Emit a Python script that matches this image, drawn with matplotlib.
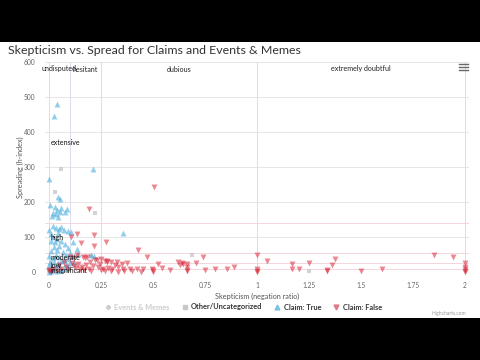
import matplotlib.pyplot as plt
from matplotlib.lines import Line2D
from matplotlib.patches import Rectangle

# --- data ---
true_x = [0.038, 0.024, 0.21, 0.0, 0.357,
          0.045, 0.053, 0.005, 0.03, 0.04, 0.055, 0.02, 0.06, 0.085, 0.077, 0.035, 0.015, 0.045,
          0.0, 0.02, 0.035, 0.05, 0.06, 0.07, 0.093, 0.108, 0.01, 0.045,
          0.02, 0.04, 0.012, 0.03, 0.06, 0.075, 0.05, 0.116, 0.133, 0.09, 0.025, 0.01, 0.065, 0.1, 0.04, 0.08,
          0.0, 0.02, 0.035, 0.05, 0.07, 0.09, 0.11, 0.2, 0.215, 0.005, 0.025, 0.045, 0.06, 0.08,
          0.0, 0.015, 0.03, 0.05, 0.07, 0.0, 0.02, 0.04, 0.0, 0.01, 0.06, 0.09, 0.12, 0.14, 0.1]
true_y = [480, 446, 294, 265, 112,
          215, 208, 191, 185, 178, 172, 170, 182, 180, 171, 165, 160, 158,
          120, 132, 125, 122, 128, 120, 118, 115, 110, 112,
          100, 95, 88, 85, 90, 80, 75, 87, 65, 70, 72, 60, 58, 55, 62, 50,
          45, 40, 48, 42, 35, 38, 45, 48, 45, 30, 28, 25, 32, 22,
          20, 15, 12, 18, 10, 8, 5, 3, 0, 2, 6, 15, 30, 52, 25]

false_x = [0.506, 0.194, 0.133, 0.218, 0.106, 0.272, 0.218, 0.152, 0.43, 0.472, 0.742, 1.0, 1.047,
           1.851, 1.941, 1.375, 1.36, 1.25, 1.167, 1.167, 1.2, 1.335, 1.335, 1.5, 1.6,
           2.0, 2.0, 2.0, 2.0, 2.0, 1.0, 1.0, 1.0, 0.889, 0.857, 0.8, 0.75, 0.707, 0.665, 0.638,
           0.665, 0.665, 0.662, 0.646, 0.63, 0.622, 0.582, 0.542, 0.526, 0.5, 0.494, 0.5, 0.454,
           0.421, 0.389, 0.373, 0.357, 0.349, 0.333, 0.317, 0.301, 0.285, 0.277, 0.269, 0.261,
           0.237, 0.229, 0.221, 0.197, 0.165, 0.175, 0.184, 0.101, 0.325, 0.109, 0.12, 0.13, 0.14,
           0.15, 0.16, 0.17, 0.18, 0.19, 0.2, 0.21, 0.25, 0.27, 0.3, 0.33, 0.36, 0.4, 0.44,
           0.08, 0.09, 0.06, 0.04, 0.02, 0.0, 0.0, 0.01, 0.05, 0.07, 0.12, 0.135, 0.25, 0.28, 0.245, 0.3]
false_y = [242, 181, 110, 106, 99, 86, 73, 82, 63, 43, 43, 50, 31,
           49, 44, 37, 20, 27, 22, 9, 8, 7, 3, 4, 10,
           27, 15, 8, 3, 0, 4, 1, 8, 13, 8, 8, 6, 25, 23, 26,
           6, 2, 15, 22, 20, 28, 6, 12, 22, 1, 10, 5, 10,
           10, 10, 25, 10, 22, 15, 20, 10, 12, 28, 31, 10,
           15, 34, 34, 29, 42, 40, 43, 44, 29, 25, 18, 12, 22,
           8, 15, 5, 20, 10, 3, 18, 5, 2, 3, 0, 2, 2, 1,
           15, 5, 8, 3, 10, 5, 2, 0, 20, 28, 40, 48, 36, 32, 22, 28]

other_x = [0.058, 0.027, 0.221, 0.686, 1.25, 0.2]
other_y = [294, 230, 170, 50, 3, 45]

# plot bands
x_band_edges = [0, 0.1, 0.25, 1, 2]
x_band_names = ['undisputed', 'hesitant', 'dubious', 'extremely doubtful']
y_band_edges = [0, 10, 27, 55, 140, 600]
y_band_names = ['insignificant', 'low', 'moderate', 'high', 'extensive']

W, H = 480, 360
fig = plt.figure(figsize=(4.8, 3.6), dpi=100)
fig.patch.set_facecolor('black')
fig.add_artist(Rectangle((0, 42 / H), 1, (318 - 42) / H, transform=fig.transFigure,
                         facecolor='white', edgecolor='none', zorder=-5))

ax = fig.add_axes([45 / W, 1 - 272 / H, 424 / W, 210 / H])
ax.set_facecolor('none')
ax.set_xlim(-0.0192, 2.019)
ax.set_ylim(0, 600)
for s in ax.spines.values():
    s.set_visible(False)

# grid + bands
for yv in range(100, 700, 100):
    ax.axhline(yv, color='#e6e6e6', lw=0.7, zorder=0)
for yv in y_band_edges[1:-1]:
    ax.axhline(yv, color='#f3d6dc', lw=0.7, zorder=0)
for xv in x_band_edges:
    ax.axvline(xv, color='#dcdcf2', lw=0.7, zorder=0)

for i, name in enumerate(x_band_names):
    cx = (x_band_edges[i] + x_band_edges[i + 1]) / 2
    ax.text(cx, 590, name, ha='center', va='top', fontsize=5.1, color='#222', family='Lato')
for i, name in enumerate(y_band_names):
    cy = (y_band_edges[i] + y_band_edges[i + 1]) / 2
    ax.text(0.008, cy, name, ha='left', va='center', fontsize=5.0, color='#111',
            family='Lato', zorder=5)

ax.scatter(other_x, other_y, marker='s', s=9, color='#c8c8c8', alpha=0.8,
           linewidths=0, zorder=2, clip_on=False)
ax.scatter(true_x, true_y, marker='^', s=18, color='#4aaedc', alpha=0.6,
           linewidths=0, zorder=3, clip_on=False)
ax.scatter(false_x, false_y, marker='v', s=18, color='#d9283a', alpha=0.55,
           linewidths=0, zorder=3, clip_on=False)

ax.set_xticks([0, 0.25, 0.5, 0.75, 1, 1.25, 1.5, 1.75, 2])
ax.set_xticklabels(['0', '0.25', '0.5', '0.75', '1', '1.25', '1.5', '1.75', '2'])
ax.set_yticks(range(0, 700, 100))
ax.tick_params(length=0, labelsize=4.8, labelcolor='#666', pad=7)
for lab in ax.get_xticklabels() + ax.get_yticklabels():
    lab.set_family('Lato')
ax.set_xlabel('Skepticism (negation ratio)', fontsize=5.2, color='#555', family='Lato', labelpad=3)
ax.set_ylabel('Spreading (h-index)', fontsize=5.2, color='#555', family='Lato', labelpad=0)

fig.text(8 / W, 1 - 50 / H, 'Skepticism vs. Spread for Claims and Events & Memes',
         fontsize=8.9, color='#333', family='Lato', va='center', ha='left')

# menu icon
for dy in (64, 67, 70):
    fig.add_artist(Line2D([459 / W, 468 / W], [1 - dy / H] * 2, transform=fig.transFigure,
                          color='#666', lw=1.0))

handles = [
    Line2D([], [], marker='D', ls='', color='#cccccc', ms=2.2),
    Line2D([], [], marker='s', ls='', color='#c8c8c8', ms=3),
    Line2D([], [], marker='^', ls='', color='#7cc3e6', ms=3.5),
    Line2D([], [], marker='v', ls='', color='#e07a86', ms=3.5),
]
labels = ['Events & Memes', 'Other/Uncategorized', 'Claim: True', 'Claim: False']
leg = fig.legend(handles, labels, loc='center', bbox_to_anchor=(243 / W, 1 - 307 / H),
                 ncol=4, frameon=False, handlelength=1.0, handletextpad=0.4,
                 columnspacing=1.5, prop={'family': 'Lato', 'size': 5.3, 'weight': 'bold'})
for i, t in enumerate(leg.get_texts()):
    t.set_color('#cccccc' if i == 0 else '#333333')

fig.text(466 / W, 1 - 314 / H, 'Highcharts.com', fontsize=3.6, color='#999',
         ha='right', va='center', family='Lato')

fig.savefig('out.png', dpi=100, facecolor=fig.get_facecolor())
